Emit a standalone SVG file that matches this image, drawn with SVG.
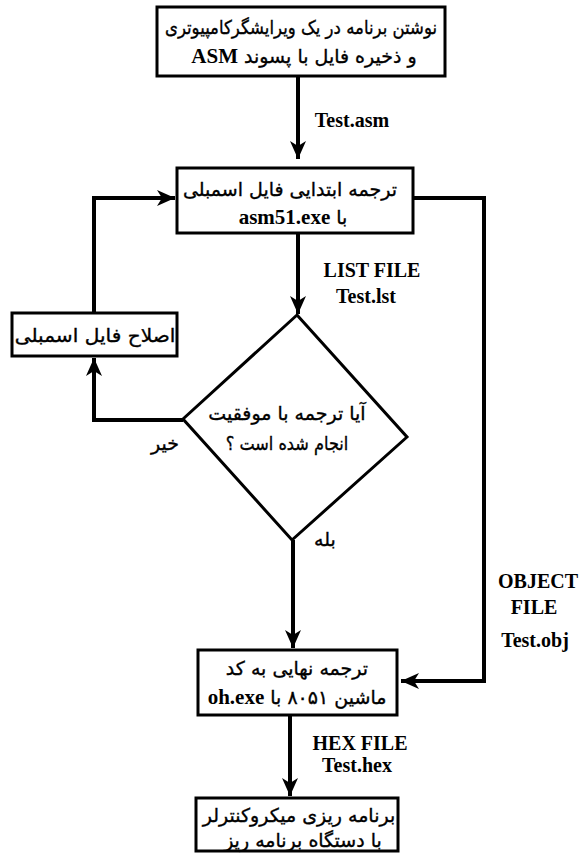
<svg xmlns="http://www.w3.org/2000/svg" width="586" height="856" viewBox="0 0 586 856">
<style>
.box{fill:#fff;stroke:#000;stroke-width:3}
.fa{font-family:"DejaVu Sans","Noto Sans",sans-serif;font-size:19px;text-anchor:middle;fill:#000;stroke:#000;stroke-width:0.35}
.en{font-family:"Liberation Serif",serif;font-weight:bold;font-size:21px;stroke:none}
.lbl{font-family:"Liberation Serif",serif;font-weight:bold;font-size:20px;text-anchor:middle;fill:#000}
.con{fill:none;stroke:#000;stroke-width:4}
</style>
<defs>
<marker id="ah" markerUnits="userSpaceOnUse" markerWidth="20" markerHeight="20" viewBox="0 0 20 20" refX="18" refY="10" orient="auto">
<path d="M0,2 L18,10 L0,18 L5,10 z" fill="#000"/>
</marker>
</defs>
<rect width="586" height="856" fill="#fff"/>
<g id="connectors">
<path class="con" d="M298,76 V159" marker-end="url(#ah)"/>
<path class="con" d="M298,233 V314" marker-end="url(#ah)"/>
<path class="con" d="M183,420 H94 V358" marker-end="url(#ah)"/>
<path class="con" d="M94,313 V198 H175" marker-end="url(#ah)"/>
<path class="con" d="M413,198 H484 V681 H401" marker-end="url(#ah)"/>
<path class="con" d="M293,540 V648" marker-end="url(#ah)"/>
<path class="con" d="M290,715 V796" marker-end="url(#ah)"/>
<text class="lbl" x="352" y="127">Test.asm</text>
<text class="lbl" x="372" y="277" font-size="22">LIST FILE</text>
<text class="lbl" x="366" y="303">Test.lst</text>
<text class="lbl" x="538" y="588" font-size="22">OBJECT</text>
<text class="lbl" x="534" y="614" font-size="22">FILE</text>
<text class="lbl" x="535" y="647">Test.obj</text>
<text class="lbl" x="360" y="750" font-size="22">HEX FILE</text>
<text class="lbl" x="357" y="772">Test.hex</text>
<text class="fa" x="165" y="450">خیر</text>
<text class="fa" x="325" y="546">بله</text>
</g>
<g id="n1">
<rect class="box" x="157" y="7" width="288" height="69"/>
<text class="fa" transform="translate(301,34) scale(0.87,1)" x="0" y="0">نوشتن برنامه در یک ویرایشگرکامپیوتری</text>
<text class="fa" x="304" y="63"><tspan class="en">ASM</tspan> و ذخیره فایل با پسوند</text>
</g>
<g id="n2">
<rect class="box" x="177" y="168" width="236" height="65"/>
<text class="fa" x="290" y="196">ترجمه ابتدایی فایل اسمبلی</text>
<text class="fa" x="293" y="224"><tspan class="en">asm51.exe</tspan> با</text>
</g>
<g id="n3">
<rect class="box" x="12" y="313" width="165" height="43"/>
<text class="fa" transform="translate(95,342) scale(1.06,1)" x="0" y="0">اصلاح فایل اسمبلی</text>
</g>
<g id="n4">
<polygon class="box" points="297,315 407,437 292,540 183,419"/>
<text class="fa" x="287" y="420">آیا ترجمه با موفقیت</text>
<text class="fa" transform="translate(287,450) scale(0.85,1)" x="0" y="0">انجام شده است ؟</text>
</g>
<g id="n5">
<rect class="box" x="198" y="650" width="199" height="65"/>
<text class="fa" x="297" y="675">ترجمه نهایی به کد</text>
<text class="fa" x="297" y="704"><tspan class="en">oh.exe</tspan> ماشین ۸۰۵۱ با</text>
</g>
<g id="n6">
<rect class="box" x="196" y="798" width="202" height="53"/>
<text class="fa" x="299" y="822">برنامه ریزی میکروکنترلر</text>
<text class="fa" x="303" y="847">با دستگاه برنامه ریز</text>
</g>
</svg>
